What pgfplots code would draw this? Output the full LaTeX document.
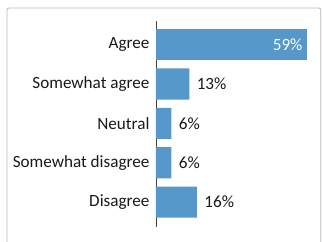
\documentclass[border=0pt]{standalone}
\usepackage{pgfplots}
\pgfplotsset{compat=1.18}
\usepackage{fontspec}
\setmainfont{Carlito}
\definecolor{barblue}{RGB}{86,152,202}
\definecolor{txt}{RGB}{25,25,25}
\begin{document}
\begin{tikzpicture}[x=1bp,y=1bp]
\path[use as bounding box] (-156,-15) rectangle (167,227);
\draw[black!28, line width=0.8bp, rounded corners=2bp] (-149,-30) rectangle (164.7,219);
\begin{axis}[
  at={(0,0)}, anchor=south west,
  scale only axis,
  width=151bp, height=206bp,
  xbar, bar width=0.79, bar shift=0pt,
  xmin=0, xmax=59,
  ymin=-0.63, ymax=4.6,
  axis x line=none,
  axis y line=left,
  axis line style={-, black!75, line width=0.8bp},
  ytick={0,1,2,3,4},
  yticklabels={Disagree,Somewhat disagree,Neutral,Somewhat agree,Agree},
  major tick length=0pt,
  yticklabel style={font=\fontsize{17.2}{20}\selectfont, text=txt, xshift=-3bp},
  /pgf/number format/assume math mode=true,
  clip=false,
]
\addplot[fill=barblue, draw=none,
  nodes near coords={\pgfmathprintnumber{\pgfplotspointmeta}\%},
  nodes near coords style={font=\fontsize{17.2}{20}\selectfont, text=txt, anchor=west, xshift=4bp},
  point meta=x]
  coordinates {(16,0) (6,1) (6,2) (13,3)};
\addplot[fill=barblue, draw=none,
  nodes near coords={\pgfmathprintnumber{\pgfplotspointmeta}\%},
  nodes near coords style={font=\fontsize{17.2}{20}\selectfont, text=white, anchor=east, xshift=-1bp},
  point meta=x]
  coordinates {(59,4)};
\end{axis}
\end{tikzpicture}
\end{document}
